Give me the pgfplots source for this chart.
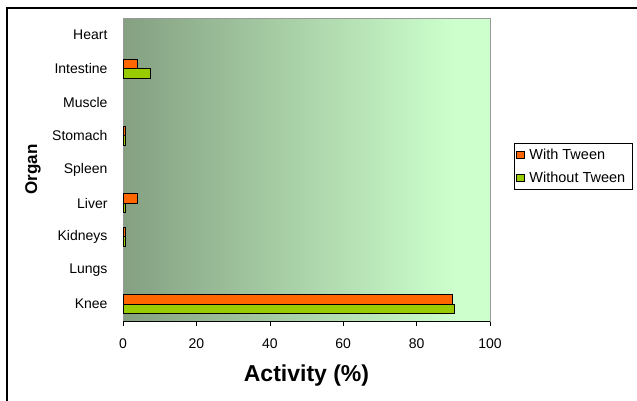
\documentclass[border=0pt]{standalone}
\usepackage{pgfplots}
\pgfplotsset{compat=1.18}
\usepackage{fontspec}
\setmainfont{Liberation Sans}
\definecolor{dk}{RGB}{132,160,129}
\definecolor{lt}{RGB}{204,255,204}
\definecolor{tw}{RGB}{255,102,0}
\definecolor{nt}{RGB}{153,204,0}
\pgfdeclarehorizontalshading{bgshade}{100bp}{color(0bp)=(dk); color(25bp)=(dk); color(70bp)=(lt); color(100bp)=(lt)}
\begin{document}
\begin{tikzpicture}
\useasboundingbox (0pt,0pt) rectangle (637pt,400pt);
\fill[white] (0pt,0pt) rectangle (637pt,400pt);
\draw[black, line width=1.3pt] (7pt,-5pt) -- (7pt,392pt) -- (645pt,392pt);
\begin{axis}[
  at={(123pt,79pt)}, anchor=south west,
  scale only axis, width=367pt, height=303pt,
  xmin=0, xmax=100, ymin=-0.5, ymax=8.5,
  xbar, bar width=9.5pt,
  axis background/.style={shading=bgshade},
  axis line style={gray!80},
  tick pos=left,
  xtick={0,20,40,60,80,100},
  tick align=outside,
  x tick style={black, line width=0.6pt},
  major tick length=5pt,
  ytick={0,1,2,3,4,5,6,7,8},
  yticklabels={Knee,Lungs,Kidneys,Liver,Spleen,Stomach,Muscle,Intestine,Heart},
  y tick style={draw=none},
  yticklabel style={xshift=-7pt},
  xticklabel style={yshift=-9pt},
  /pgf/number format/assume math mode=true,
  tick label style={font=\fontsize{14}{16}\selectfont},
  xlabel={Activity (\%)},
  xlabel style={font=\bfseries\fontsize{23}{26}\selectfont, at={(axis description cs:0.5,-0.1815)}, anchor=center},
  ylabel={Organ},
  ylabel style={font=\bfseries\fontsize{17}{19}\selectfont, at={(axis description cs:-0.245,0.5)}, anchor=center},
  legend style={at={(axis description cs:1.0654,0.5875)}, anchor=north west,
    draw=black, line width=0.6pt, font=\fontsize{14.5}{16}\selectfont,
    inner xsep=2pt, inner ysep=3.5pt, row sep=7pt, cells={anchor=west},
    nodes={inner xsep=4.5pt}},
  legend image code/.code={\draw[#1, line width=0.6pt] (0pt,-3.5pt) rectangle (8pt,4pt);},
]
\addplot[fill=tw, draw=black, line width=0.8pt, bar shift=4.75pt] coordinates {
  (89.7,0) (0.7,2) (4.0,3) (0.7,5) (3.8,7)};
\addplot[fill=nt, draw=black, line width=0.8pt, bar shift=-4.75pt] coordinates {
  (90.3,0) (0.7,2) (0.7,3) (0.7,5) (7.5,7)};
\legend{With Tween, Without Tween}
\draw[black, line width=0.8pt] (rel axis cs:0,0) -- (rel axis cs:1,0);
\end{axis}
\end{tikzpicture}
\end{document}
